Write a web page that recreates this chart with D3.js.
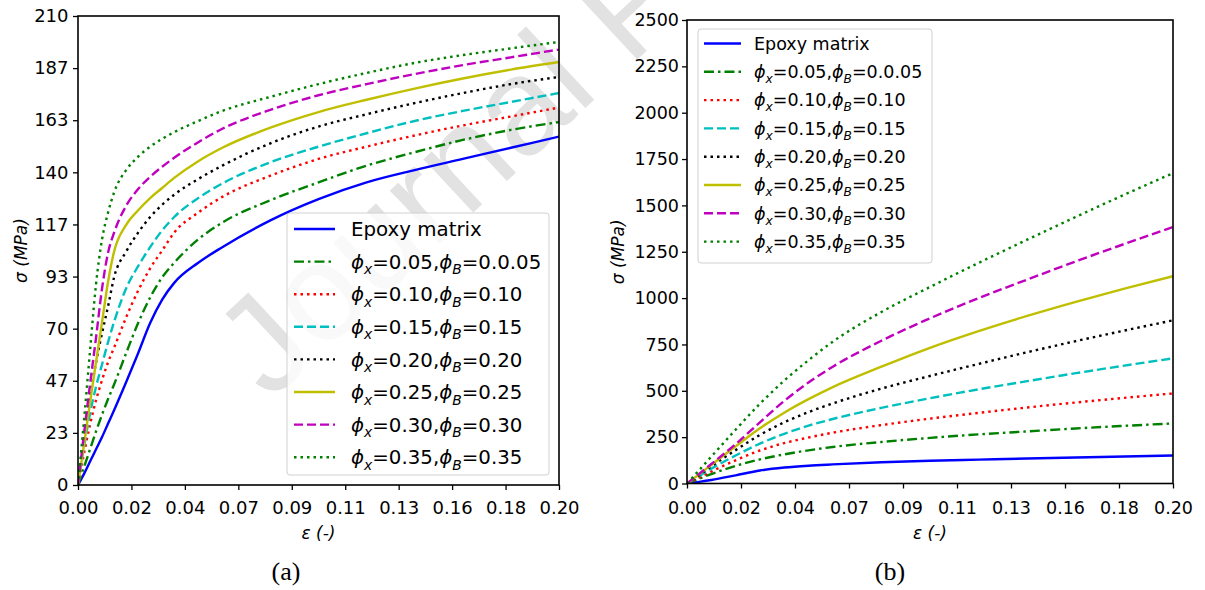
<!DOCTYPE html>
<html>
<head>
<meta charset="utf-8">
<script src="https://cdn.jsdelivr.net/npm/d3@7"></script>
<style>
  body { margin: 0; background: #fff; }
  svg { display: block; font-family: "DejaVu Sans", sans-serif; }
</style>
</head>
<body>
<svg id="fig" width="1205" height="590"></svg>
<script>
// ---- data ----
const legendPhiX = ["0.05", "0.10", "0.15", "0.20", "0.25", "0.30", "0.35"];
const legendPhiB = ["0.0.05", "0.10", "0.15", "0.20", "0.25", "0.30", "0.35"];

const xTickLabels = ["0.00", "0.02", "0.04", "0.07", "0.09", "0.11", "0.13", "0.16", "0.18", "0.20"];
const yTickLabelsA = ["0", "23", "47", "70", "93", "117", "140", "163", "187", "210"];
const yTickLabelsB = ["0", "250", "500", "750", "1000", "1250", "1500", "1750", "2000", "2250", "2500"];

// panel (a)
const strainA = [0, 0.0025, 0.005, 0.0075, 0.01, 0.0125, 0.015, 0.02, 0.025, 0.03, 0.035, 0.04, 0.05, 0.06, 0.08, 0.10, 0.12, 0.14, 0.16, 0.18, 0.20];
const stressA_epoxy = [0, 5, 10.5, 16, 21.5, 27.5, 33.5, 46, 59, 72.5, 83, 90.5, 99.5, 106.5, 118.5, 128, 135.5, 141, 146, 151, 156];
const stressA_05 = [0, 8, 16, 24, 31.5, 38.5, 45, 59, 72.5, 84, 93, 99.5, 110, 117.5, 127.5, 135.5, 143, 149, 154.5, 159, 162.5];
const stressA_10 = [0, 14, 27, 38, 47, 55, 61.5, 75, 87, 97, 105, 113, 122, 129, 138.5, 146, 151.5, 156.5, 161, 165, 169];
const stressA_15 = [0, 17, 32, 44, 54, 64, 73, 88, 98, 106.5, 114, 120, 128.5, 135, 144.5, 151.5, 157.5, 163, 167.5, 171.5, 175.5];
const stressA_20 = [0, 21, 39, 55, 68, 80, 93, 104.5, 113, 120, 125.5, 130, 137, 143, 153, 160.5, 166, 171, 175.5, 179.5, 182.7];
const stressA_25 = [0, 18, 37, 55, 73, 91, 104.5, 116.5, 123, 128.5, 133, 137.5, 145, 151, 160, 167, 172.5, 177.5, 182, 186, 189.4];
const stressA_30 = [0, 23, 45, 66, 88, 104, 113, 125, 132.5, 138, 142.5, 146.5, 153.5, 159.5, 168, 174.5, 179.5, 184, 188, 191.5, 195];
const stressA_35 = [0, 29, 60, 90, 110, 122, 131, 141, 147, 151.5, 155, 158, 163, 167.5, 173.8, 179.5, 184.5, 189, 192.5, 195.5, 198.4];

// panel (b)
const strainB = [0, 0.005, 0.01, 0.02, 0.03, 0.04, 0.05, 0.06, 0.08, 0.10, 0.12, 0.14, 0.16, 0.18, 0.20];
const stressB_epoxy = [0, 9, 19, 44, 70, 86, 96, 103, 115, 123, 129, 135, 140, 146, 151];
const stressB_05 = [0, 26, 51, 95, 130, 157, 179, 197, 224, 246, 265, 281, 297, 311, 324];
const stressB_10 = [0, 32, 64, 125, 178, 218, 248, 274, 315, 350, 381, 410, 437, 462, 486];
const stressB_15 = [0, 40, 80, 151, 215, 268, 312, 348, 408, 460, 508, 552, 595, 636, 675];
const stressB_20 = [0, 45, 92, 180, 262, 330, 385, 432, 512, 580, 645, 708, 768, 825, 880];
const stressB_25 = [0, 50, 100, 200, 298, 382, 455, 520, 630, 732, 822, 904, 980, 1051, 1118];
const stressB_30 = [0, 52, 105, 212, 330, 445, 545, 630, 770, 891, 1000, 1100, 1198, 1292, 1383];
const stressB_35 = [0, 72, 145, 290, 430, 555, 665, 765, 925, 1060, 1190, 1315, 1438, 1558, 1674];

// matplotlib-ish line styles, in plot order
const lineColors = ["#0000ff", "#008000", "#ff0000", "#00bfbf", "#000000", "#bfbf00", "#bf00bf", "#008000"];
const lineDashes = [null, "10,4,2.5,4", "2.5,4", "9,4", "2.5,4", "", "9,4", "2.5,4"];

const svg = d3.select("#fig");

// watermark sits behind everything
svg.append("text")
  .attr("transform", "translate(270,402) rotate(-43)")
  .attr("font-family", "Liberation Sans, sans-serif")
  .attr("font-size", 138)
  .attr("fill", "#e2e2e2")
  .text("Journal Pre-proof");

function drawPanel(opt) {
  const g = svg.append("g");
  const x = d3.scaleLinear().domain([0, 0.2]).range([opt.left, opt.right]);
  const y = d3.scaleLinear().domain([0, opt.ymax]).range([opt.bottom, opt.top]);

  const clipId = "clip-" + opt.id;
  svg.append("clipPath").attr("id", clipId)
    .append("rect")
    .attr("x", opt.left).attr("y", opt.top)
    .attr("width", opt.right - opt.left).attr("height", opt.bottom - opt.top);

  const line = d3.line()
    .x(d => x(d[0]))
    .y(d => y(d[1]))
    .curve(d3.curveMonotoneX);

  const curves = g.append("g").attr("clip-path", "url(#" + clipId + ")");
  opt.series.forEach((s, i) => {
    curves.append("path")
      .datum(opt.strain.map((e, k) => [e, s[k]]))
      .attr("d", line)
      .attr("fill", "none")
      .attr("stroke", lineColors[i])
      .attr("stroke-width", 2.4)
      .attr("stroke-dasharray", lineDashes[i]);
  });

  // axes
  const xAxis = d3.axisBottom(x)
    .tickValues(d3.range(10).map(i => i * 0.2 / 9))
    .tickFormat((d, i) => xTickLabels[i])
    .tickSize(5).tickPadding(opt.xPad);
  const yAxis = d3.axisLeft(y)
    .tickValues(opt.yLabels.map((d, i) => i * opt.ymax / (opt.yLabels.length - 1)))
    .tickFormat((d, i) => opt.yLabels[i])
    .tickSize(5).tickPadding(opt.yPad);

  const gx = g.append("g").attr("transform", "translate(0," + opt.bottom + ")").call(xAxis);
  const gy = g.append("g").attr("transform", "translate(" + opt.left + ",0)").call(yAxis);
  [gx, gy].forEach(a => {
    a.select(".domain").remove();
    a.selectAll("line").attr("stroke", "#000").attr("stroke-width", 1.3);
    a.selectAll("text")
      .attr("font-family", "DejaVu Sans, sans-serif")
      .attr("font-size", opt.tickFont)
      .attr("fill", "#000");
  });

  g.append("rect")
    .attr("x", opt.left).attr("y", opt.top)
    .attr("width", opt.right - opt.left).attr("height", opt.bottom - opt.top)
    .attr("fill", "none").attr("stroke", "#000").attr("stroke-width", 1.6);

  // axis titles
  g.append("text")
    .attr("transform", "translate(" + opt.ylabX + "," + (opt.top + opt.bottom) / 2 + ") rotate(-90)")
    .attr("text-anchor", "middle").attr("dy", "0.35em")
    .attr("font-size", 17).attr("font-style", "italic")
    .text("σ (MPa)");
  g.append("text")
    .attr("x", (opt.left + opt.right) / 2).attr("y", 533)
    .attr("text-anchor", "middle").attr("dy", "0.35em")
    .attr("font-size", 17).attr("font-style", "italic")
    .text("ε (-)");

  g.append("text")
    .attr("x", opt.tagX).attr("y", 580)
    .attr("text-anchor", "middle")
    .attr("font-family", "Liberation Serif, serif")
    .attr("font-size", 26)
    .text(opt.tag);

  // legend
  const L = opt.legend;
  const lg = g.append("g");
  lg.append("rect")
    .attr("x", L.x).attr("y", L.y).attr("width", L.w).attr("height", L.h)
    .attr("rx", 3)
    .attr("fill", "#fff").attr("fill-opacity", 0.8)
    .attr("stroke", "#d0d0d0").attr("stroke-width", 1);
  lineColors.forEach((c, i) => {
    const yy = L.y0 + i * L.step;
    lg.append("line")
      .attr("x1", L.sx0).attr("x2", L.sx1).attr("y1", yy).attr("y2", yy)
      .attr("stroke", c).attr("stroke-width", 2.4)
      .attr("stroke-dasharray", lineDashes[i]);
    const t = lg.append("text")
      .attr("x", L.tx).attr("y", yy).attr("dy", "0.36em")
      .attr("font-size", L.font);
    if (i === 0) {
      t.text("Epoxy matrix");
    } else {
      const sub = L.font * 0.28;
      t.append("tspan").attr("font-style", "italic").text("ϕ");
      t.append("tspan").attr("font-style", "italic").attr("font-size", L.font * 0.7).attr("dy", sub).text("x");
      t.append("tspan").attr("dy", -sub).text("=" + legendPhiX[i - 1] + ",");
      t.append("tspan").attr("font-style", "italic").text("ϕ");
      t.append("tspan").attr("font-style", "italic").attr("font-size", L.font * 0.7).attr("dy", sub).text("B");
      t.append("tspan").attr("dy", -sub).text("=" + legendPhiB[i - 1]);
    }
  });
}

drawPanel({
  id: "a", tag: "(a)", tagX: 286,
  left: 78, right: 559, top: 16, bottom: 485, ymax: 210,
  strain: strainA,
  series: [stressA_epoxy, stressA_05, stressA_10, stressA_15, stressA_20, stressA_25, stressA_30, stressA_35],
  yLabels: yTickLabelsA, xPad: 11, yPad: 4.5, tickFont: 18, ylabX: 21,
  legend: { x: 287, y: 213, w: 262, h: 262, y0: 229, step: 32.6, sx0: 294, sx1: 335, tx: 351, font: 19.8 }
});

drawPanel({
  id: "b", tag: "(b)", tagX: 890,
  left: 687, right: 1173, top: 20, bottom: 483.5, ymax: 2500,
  strain: strainB,
  series: [stressB_epoxy, stressB_05, stressB_10, stressB_15, stressB_20, stressB_25, stressB_30, stressB_35],
  yLabels: yTickLabelsB, xPad: 13, yPad: 3, tickFont: 17.5, ylabX: 618,
  legend: { x: 698, y: 29, w: 234, h: 234, y0: 43.5, step: 28.3, sx0: 704, sx1: 741, tx: 754, font: 17.5 }
});
</script>
</body>
</html>
